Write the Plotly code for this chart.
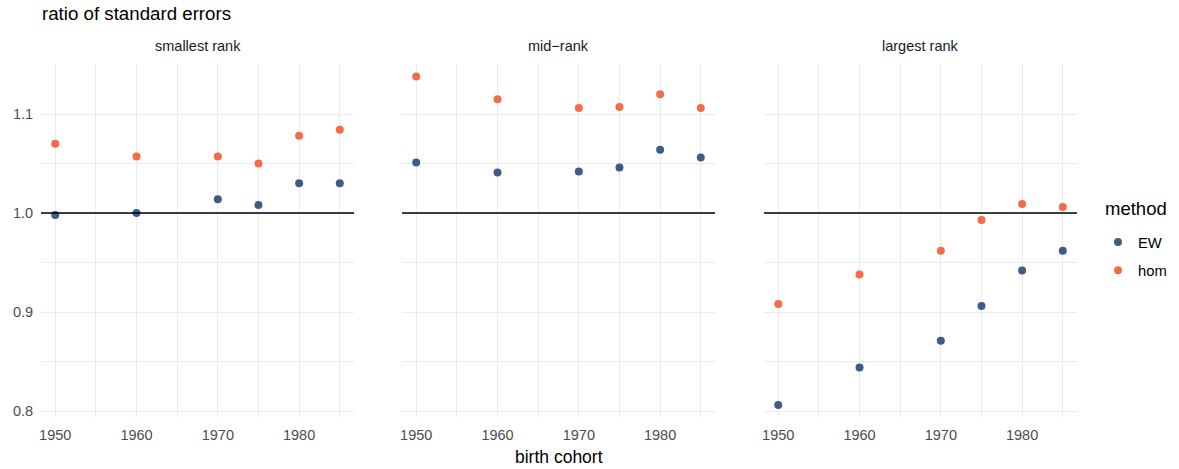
import plotly.graph_objects as go

W, H = 1179, 469

panels = ["smallest rank", "mid\u2212rank", "largest rank"]
cohorts = [1950, 1960, 1970, 1975, 1980, 1985]

ew_smallest = [0.998, 1.000, 1.014, 1.008, 1.030, 1.030]
hom_smallest = [1.070, 1.057, 1.057, 1.050, 1.078, 1.084]
ew_mid = [1.051, 1.041, 1.042, 1.046, 1.064, 1.056]
hom_mid = [1.138, 1.115, 1.106, 1.107, 1.120, 1.106]
ew_largest = [0.806, 0.844, 0.871, 0.906, 0.942, 0.962]
hom_largest = [0.908, 0.938, 0.962, 0.993, 1.009, 1.006]

ew_series = [ew_smallest, ew_mid, ew_largest]
hom_series = [hom_smallest, hom_mid, hom_largest]

x_ticks = [1950, 1960, 1970, 1980]
x_minor = [1955, 1965, 1975, 1985]
y_ticks = [0.8, 0.9, 1.0, 1.1]
y_tick_text = ["0.8", "0.9", "1.0", "1.1"]
y_minor = [0.85, 0.95, 1.05, 1.15]

EW_COLOR = "#3E5C88"
HOM_COLOR = "#F26B4B"
GRID = "#EBEBEB"
FONT = "Liberation Sans, Arial, sans-serif"
TICK_SIZE = 14.5

# panel pixel extents
px_bounds = [(41, 354), (402, 715), (764, 1077)]
y_top, y_bot = 64, 417
ydom = [1 - y_bot / H, 1 - y_top / H]

fig = go.Figure()
layout = dict(
    width=W, height=H,
    margin=dict(l=0, r=0, t=0, b=0),
    paper_bgcolor="white", plot_bgcolor="white",
    font=dict(family=FONT, color="#4D4D4D"),
    showlegend=True,
)
annotations = []
shapes = []
for i, (name, ew, hom) in enumerate(zip(panels, ew_series, hom_series)):
    sfx = "" if i == 0 else str(i + 1)
    xa = "x" + sfx
    ya = "y" + sfx
    fig.add_trace(go.Scatter(x=cohorts, y=ew, mode="markers", name="EW",
                             marker=dict(color=EW_COLOR, size=8),
                             xaxis=xa, yaxis=ya, legendgroup="EW", showlegend=(i == 0)))
    fig.add_trace(go.Scatter(x=cohorts, y=hom, mode="markers", name="hom",
                             marker=dict(color=HOM_COLOR, size=8),
                             xaxis=xa, yaxis=ya, legendgroup="hom", showlegend=(i == 0)))
    x0, x1 = px_bounds[i]
    layout["xaxis" + sfx] = dict(
        domain=[x0 / W, x1 / W], anchor=ya, range=[1948.25, 1986.75],
        tickvals=x_ticks, ticktext=[str(t) for t in x_ticks],
        showgrid=True, gridcolor=GRID, gridwidth=1.1, zeroline=False, showline=False,
        ticks="outside", ticklen=5, tickcolor="rgba(0,0,0,0)",
        tickfont=dict(size=TICK_SIZE, color="#4D4D4D", family=FONT),
        minor=dict(tickvals=x_minor, showgrid=True, gridcolor=GRID, gridwidth=0.55, ticks=""),
        automargin=False, fixedrange=True,
    )
    layout["yaxis" + sfx] = dict(
        domain=ydom, anchor=xa, range=[0.794, 1.1505],
        tickvals=y_ticks, ticktext=y_tick_text, showticklabels=(i == 0),
        showgrid=True, gridcolor=GRID, gridwidth=1.1, zeroline=False, showline=False,
        ticks="outside", ticklen=4, tickcolor="rgba(0,0,0,0)",
        tickfont=dict(size=TICK_SIZE, color="#4D4D4D", family=FONT),
        minor=dict(tickvals=y_minor, showgrid=True, gridcolor=GRID, gridwidth=0.55, ticks=""),
        automargin=False, fixedrange=True,
    )
    shapes.append(dict(type="line", xref=xa + " domain", yref=ya, x0=0, x1=1, y0=1.0, y1=1.0,
                       line=dict(color="black", width=1.5), layer="above"))
    annotations.append(dict(text=name, xref="paper", yref="paper",
                            x=(x0 + x1) / 2 / W, y=1 - 46 / H, xanchor="center", yanchor="middle",
                            showarrow=False, font=dict(size=14.5, color="#1A1A1A", family=FONT)))

annotations.append(dict(text="ratio of standard errors", xref="paper", yref="paper",
                        x=40 / W, y=1 - 14 / H, xanchor="left", yanchor="middle",
                        showarrow=False, font=dict(size=18.7, color="black", family=FONT)))
annotations.append(dict(text="birth cohort", xref="paper", yref="paper",
                        x=559 / W, y=1 - 457 / H, xanchor="center", yanchor="middle",
                        showarrow=False, font=dict(size=17.5, color="black", family=FONT)))
# legend title
annotations.append(dict(text="method", xref="paper", yref="paper",
                        x=1103 / W, y=1 - 208 / H, xanchor="left", yanchor="middle",
                        showarrow=False, font=dict(size=18.5, color="black", family=FONT)))

layout["annotations"] = annotations
layout["shapes"] = shapes
layout["legend"] = dict(
    x=1098 / W, y=1 - 226 / H, xanchor="left", yanchor="top",
    font=dict(size=14.8, color="black", family=FONT),
    bgcolor="rgba(0,0,0,0)", itemsizing="trace", tracegroupgap=6,
)
fig.update_layout(**layout)
fig.write_html("out.html", config={"displayModeBar": False},
               post_script="document.body.style.margin='0';document.body.style.padding='0';")
